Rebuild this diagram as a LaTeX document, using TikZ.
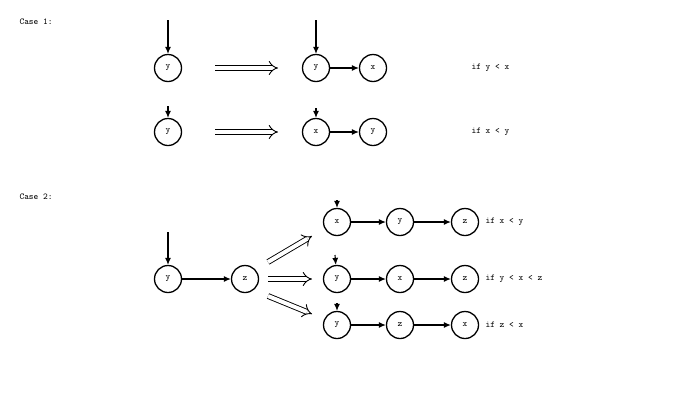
\documentclass[tikz,border=0pt]{standalone}
\usetikzlibrary{arrows.meta}
\begin{document}
\begin{tikzpicture}[x=1pt,y=-1pt,
  vtx/.style={circle,draw,line width=1.3pt,minimum size=27pt,inner sep=0pt,font=\ttfamily\small},
  edge/.style={-{Latex[length=7pt,width=6pt]},line width=1.1pt},
  impl/.style={double,double distance=4pt,line width=0.9pt,-{Implies[length=6pt]}},
  lbl/.style={anchor=west,font=\ttfamily\small}]
\useasboundingbox (0,0) rectangle (680,413);
\node[lbl] (c1) at (16,22) {Case 1:};
\node[lbl] (c2) at (16,197) {Case 2:};
% case 1 row 1
\node[vtx] (a1) at (168,68) {y};
\coordinate (a1i) at (168,20);
\draw[edge] (a1i) -- (a1);
\coordinate (d1s) at (215,68); \coordinate (d1e) at (278,68);
\draw[impl] (d1s) -- (d1e);
\node[vtx] (b1) at (316,68) {y};
\node[vtx] (b2) at (373,68) {x};
\coordinate (b1i) at (316,20);
\draw[edge] (b1i) -- (b1);
\draw[edge] (b1) -- (b2);
\node[lbl] (t1) at (468,68) {if y < x};
% case 1 row 2
\node[vtx] (a2) at (168,132) {y};
\coordinate (a2i) at (168,106);
\draw[edge] (a2i) -- (a2);
\coordinate (d2s) at (215,132); \coordinate (d2e) at (278,132);
\draw[impl] (d2s) -- (d2e);
\node[vtx] (e1) at (316,132) {x};
\node[vtx] (e2) at (373,132) {y};
\coordinate (e1i) at (316,108);
\draw[edge] (e1i) -- (e1);
\draw[edge] (e1) -- (e2);
\node[lbl] (t2) at (468,132) {if x < y};
% case 2
\node[vtx] (p) at (168,279) {y};
\node[vtx] (q) at (245,279) {z};
\coordinate (pi) at (168,232);
\draw[edge] (pi) -- (p);
\draw[edge] (p) -- (q);
\coordinate (f1s) at (268,262); \coordinate (f1e) at (312,236);
\coordinate (f2s) at (268,279); \coordinate (f2e) at (312,279);
\coordinate (f3s) at (268,296); \coordinate (f3e) at (312,314);
\draw[impl] (f1s) -- (f1e);
\draw[impl] (f2s) -- (f2e);
\draw[impl] (f3s) -- (f3e);
% top row
\node[vtx] (r1) at (337,222) {x};
\node[vtx] (r2) at (400,222) {y};
\node[vtx] (r3) at (465,222) {z};
\coordinate (r1i) at (337,200);
\draw[edge] (r1i) -- (r1);
\draw[edge] (r1) -- (r2); \draw[edge] (r2) -- (r3);
\node[lbl] (t3) at (482,222) {if x < y};
% middle row
\node[vtx] (s1) at (337,279) {y};
\node[vtx] (s2) at (400,279) {x};
\node[vtx] (s3) at (465,279) {z};
\coordinate (s1i) at (335,255);
\draw[edge] (s1i) -- (s1);
\draw[edge] (s1) -- (s2); \draw[edge] (s2) -- (s3);
\node[lbl] (t4) at (482,279) {if y < x < z};
% bottom row
\node[vtx] (u1) at (337,325) {y};
\node[vtx] (u2) at (400,325) {z};
\node[vtx] (u3) at (465,325) {x};
\coordinate (u1i) at (337,303);
\draw[edge] (u1i) -- (u1);
\draw[edge] (u1) -- (u2); \draw[edge] (u2) -- (u3);
\node[lbl] (t5) at (482,325) {if z < x};
\end{tikzpicture}
\end{document}
